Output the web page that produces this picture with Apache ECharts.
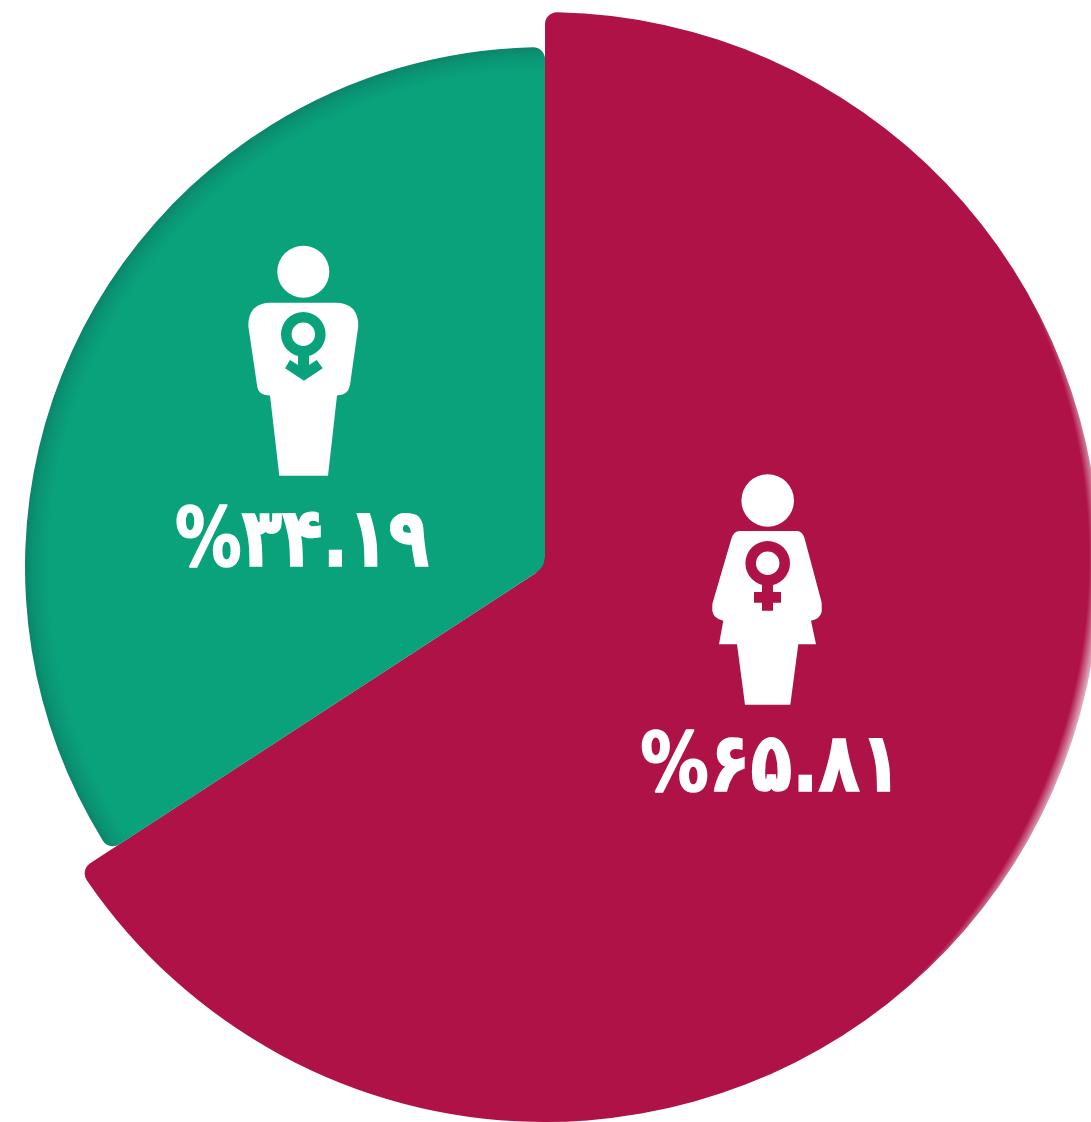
<!DOCTYPE html>
<html>
<head>
    <meta charset="utf-8">
    <title>pie</title>
    <style>
        html, body { margin: 0; padding: 0; background: #fff; }
        #chart { width: 1091px; height: 1122px; }
    </style>
    <script src="https://cdn.jsdelivr.net/npm/echarts@6/dist/echarts.min.js"></script>
</head>
<body>
<div id="chart"></div>
<script>
    const categories = ['زن', 'مرد'];
    const values = [65.81, 34.19];
    const valueLabels = ['%۶۵.۸۱', '%۳۴.۱۹'];

    const chart = echarts.init(document.getElementById('chart'));

    const RED = '#ae1246';
    const GREEN = '#09a27b';
    const cx = 545;
    const cy = 567;

    const white = { fill: '#fff' };

    // man icon
    const manBody = 'M271 302.7L335 302.7Q358.3 302.7 358.3 326L350 385Q348 395.5 337 395.5L328 475.7L279.3 475.7L270 395.5Q258 395.5 257 385L248.3 326Q248.3 302.7 271 302.7Z';
    const manArrow = 'M285 368.3L304 380.7L322.7 368.3L316.7 360L309 365L309 351.7L298 351.7L298 365L290 360Z';
    // woman icon
    const womanBody = 'M740 531L796.7 531Q803 531 805 540L821 600Q822 602 821.7 611.7Q820 619 811 620.7L816 644.3L798.3 644.3L790.3 704.7L745 704.7L737 644.3L719 644.3L723.3 620.7Q714 619 712.3 611L712.3 604L731 540Q733 531 740 531Z';
    const womanCross = 'M762 583L773 583L773 592L781 592L781 602.7L773 602.7L773 610.7L762 610.7L762 602.7L754 602.7L754 592L762 592Z';
    // rounded inner tip of the green slice
    const greenTip = 'M544.6 558Q544.6 567 536 572.6L540 575L546 567L546 558Z';

    const ring = (x, y, color) => [
        { type: 'circle', shape: { cx: x, cy: y, r: 22.3 }, style: { fill: color } },
        { type: 'circle', shape: { cx: x, cy: y, r: 11.7 }, style: white }
    ];

    const label = (text, x, y, scaleX) => ({
        type: 'text', x: x, y: y, scaleX: scaleX, scaleY: 1.08,
        style: {
            text: text, fill: '#fff', stroke: '#fff', lineWidth: 1.5,
            align: 'center', verticalAlign: 'middle', font: 'bold 76px "DejaVu Sans"'
        }
    });

    const renderIcons = () => ({
        type: 'group',
        children: [
            { type: 'path', shape: { pathData: greenTip }, style: { fill: RED } },
            { type: 'circle', shape: { cx: 303.3, cy: 271.7, r: 26 }, style: white },
            { type: 'path', shape: { pathData: manBody }, style: white },
            ...ring(303.3, 334.3, GREEN),
            { type: 'path', shape: { pathData: manArrow }, style: { fill: GREEN } },
            { type: 'circle', shape: { cx: 767.7, cy: 500.5, r: 26.3 }, style: white },
            { type: 'path', shape: { pathData: womanBody }, style: white },
            ...ring(767.7, 563.3, RED),
            { type: 'path', shape: { pathData: womanCross }, style: { fill: RED } },
            label(valueLabels[1], 302, 545, 0.875),
            label(valueLabels[0], 771, 770, 0.9)
        ]
    });

    const option = {
        animation: false,
        backgroundColor: '#fff',
        series: [{
            name: categories[0],
            type: 'pie',
            center: [cx, cy],
            radius: [0, 555],
            startAngle: 90,
            silent: true,
            label: { show: false },
            labelLine: { show: false },
            itemStyle: { borderRadius: 12 },
            data: [
                {
                    name: categories[0],
                    value: values[0],
                    itemStyle: {
                        color: {
                            type: 'radial', x: 495, y: 558, r: 606, global: true,
                            colorStops: [
                                { offset: 0, color: RED },
                                { offset: 0.98, color: RED },
                                { offset: 1, color: '#e6b8c8' }
                            ]
                        }
                    }
                },
                { name: categories[1], value: values[1], itemStyle: { color: 'transparent' } }
            ]
        }, {
            name: categories[1],
            type: 'pie',
            center: [cx, cy],
            radius: [0, 520],
            startAngle: 90,
            silent: true,
            label: { show: false },
            labelLine: { show: false },
            itemStyle: { borderRadius: 12 },
            data: [
                { name: categories[0], value: values[0], itemStyle: { color: 'transparent' } },
                {
                    name: categories[1],
                    value: values[1],
                    itemStyle: {
                        color: {
                            type: 'radial', x: cx, y: cy, r: 520, global: true,
                            colorStops: [
                                { offset: 0, color: GREEN },
                                { offset: 0.955, color: GREEN },
                                { offset: 0.985, color: '#0a9373' },
                                { offset: 1, color: '#0b8568' }
                            ]
                        }
                    }
                }
            ]
        }, {
            type: 'custom',
            coordinateSystem: 'none',
            silent: true,
            z: 5,
            data: [0],
            renderItem: renderIcons
        }]
    };

    chart.setOption(option);
</script>
</body>
</html>
